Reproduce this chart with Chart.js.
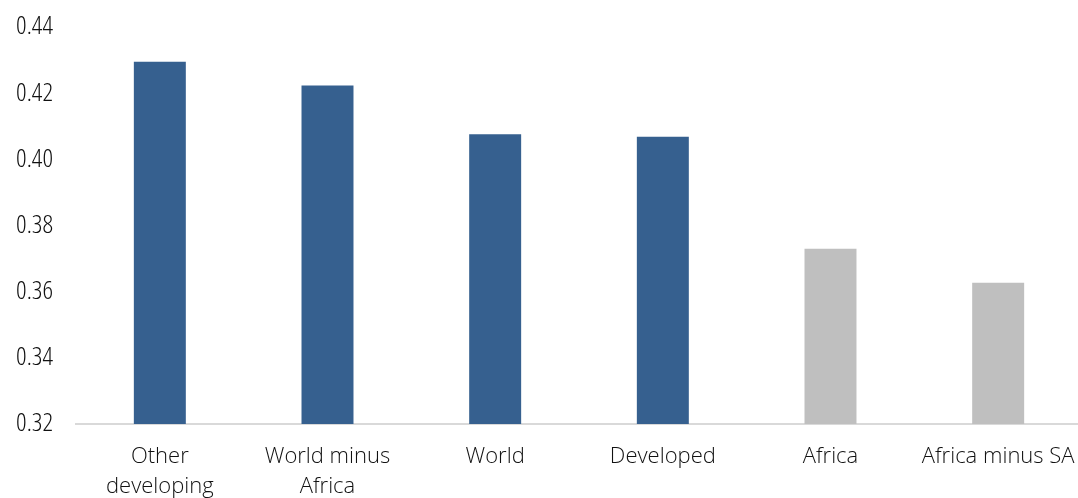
<!DOCTYPE html>
<html>
<head>
<meta charset="utf-8">
<script src="https://cdn.jsdelivr.net/npm/chart.js@4"></script>
<style>
html,body{margin:0;padding:0;background:#fff;overflow:hidden;}
#wrap{width:1084px;height:498px;}
</style>
</head>
<body>
<div id="wrap"><canvas id="c" width="1084" height="498"></canvas></div>
<script>
const categories = [["Other","developing"],["World minus","Africa"],"World","Developed","Africa","Africa minus SA"];
const values = [0.4295, 0.4223, 0.4076, 0.4068, 0.3730, 0.3627];
const barColors = ["#36608F","#36608F","#36608F","#36608F","#BFBFBF","#BFBFBF"];
const yMin = 0.32, yMax = 0.44, yStep = 0.02;

const FONT = "'Open Sans', sans-serif";

const condensedPlugin = {
  id: 'condensed',
  beforeUpdate(chart){ chart.ctx.fontStretch = 'semi-condensed'; },
  beforeLayout(chart){ chart.ctx.fontStretch = 'semi-condensed'; },
  beforeDraw(chart){ chart.ctx.fontStretch = 'semi-condensed'; }
};

new Chart(document.getElementById('c'), {
  type: 'bar',
  plugins: [condensedPlugin],
  data: {
    labels: categories,
    datasets: [{
      data: values,
      backgroundColor: barColors,
      borderWidth: 0,
      barPercentage: 1,
      categoryPercentage: 0.31
    }]
  },
  options: {
    responsive: false,
    animation: false,
    layout: {padding: {left: 12, top: 27, right: 2, bottom: 0}},
    plugins: {legend: {display: false}, tooltip: {enabled: false}},
    scales: {
      x: {
        grid: {display: false, drawTicks: false},
        border: {display: true, color: '#D9D9D9', width: 2},
        ticks: {
          color: '#111111',
          font: {family: FONT, size: 22, weight: 300, lineHeight: 1.36},
          padding: 18,
          maxRotation: 0,
          autoSkip: false
        },
        afterFit: s => { s.height = 74; s.paddingLeft = 0; s.paddingRight = 0; }
      },
      y: {
        min: yMin, max: yMax,
        grid: {display: false, drawTicks: false},
        border: {display: false},
        ticks: {
          stepSize: yStep,
          color: '#111111',
          font: {family: FONT, size: 26, weight: 300},
          padding: 23,
          callback: v => v.toFixed(2)
        },
        afterFit: s => { s.width = 64; s.paddingTop = 0; s.paddingBottom = 0; }
      }
    }
  }
});
</script>
</body>
</html>
